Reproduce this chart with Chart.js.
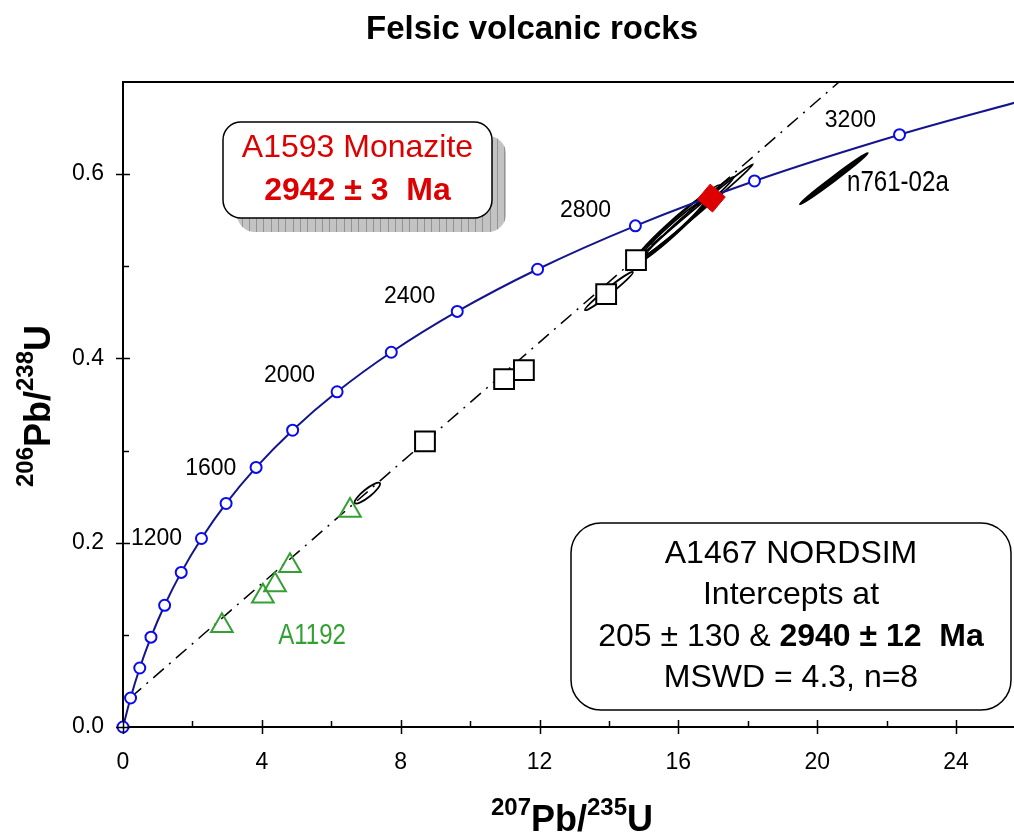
<!DOCTYPE html>
<html>
<head>
<meta charset="utf-8">
<script src="https://cdn.jsdelivr.net/npm/chart.js@4.4.0/dist/chart.umd.min.js"></script>
<style>
  html, body { margin: 0; padding: 0; background: #fff; }
  #c { display: block; }
</style>
</head>
<body>
<canvas id="c" width="1014" height="832"></canvas>
<script>
// ---- Concordia curve (207Pb/235U, 206Pb/238U), marker every 200 Ma ----
const concordiaAges = [0, 200, 400, 600, 800, 1000, 1200, 1400, 1600, 1800, 2000, 2200, 2400, 2600, 2800, 3000, 3200, 3340];
const concordiaX = [0, 0.2177, 0.4828, 0.8056, 1.1988, 1.6774, 2.2603, 2.9701, 3.8345, 4.8870, 6.1687, 7.7294, 9.6297, 11.944, 14.762, 18.193, 22.372, 25.83];
const concordiaY = [0, 0.0315, 0.0640, 0.0975, 0.1321, 0.1678, 0.2046, 0.2426, 0.2817, 0.3221, 0.3638, 0.4067, 0.4510, 0.4968, 0.5439, 0.5926, 0.6428, 0.679];

// ---- Age labels along the concordia ----
const ageLabels = ['1200', '1600', '2000', '2400', '2800', '3200'];
const ageLabelX = [0.23, 1.79, 4.06, 7.52, 12.59, 20.22];
const ageLabelY = [0.1975, 0.2734, 0.3743, 0.460, 0.5533, 0.651];

// ---- Discordia through A1467 (lower and upper ends of the drawn chord) ----
const discordiaX = [0.22, 20.63];
const discordiaY = [0.032, 0.70];

// ---- A1467 NORDSIM spots ----
const a1467X = [8.70, 10.98, 11.55, 13.92, 14.78];
const a1467Y = [0.310, 0.3776, 0.3873, 0.4698, 0.5067];

// ---- A1192 spots ----
const a1192X = [2.85, 4.03, 4.38, 4.81, 6.54];
const a1192Y = [0.110, 0.142, 0.154, 0.175, 0.235];

// ---- A1593 monazite concordant age ----
const monaziteX = [16.95];
const monaziteY = [0.574];

// ---- Error ellipses: major-axis end points ----
const ellipseX1 = [14.78, 14.52, 14.90, 14.66, 15.10, 13.31, 6.68, 19.50];
const ellipseY1 = [0.5045, 0.4958, 0.509, 0.501, 0.514, 0.4524, 0.243, 0.5674];
const ellipseX2 = [18.15, 17.20, 16.77, 16.97, 17.60, 14.69, 7.40, 21.46];
const ellipseY2 = [0.6108, 0.588, 0.572, 0.580, 0.597, 0.4937, 0.2647, 0.6228];

// ---- Axis ticks ----
const xMajorTicks = [0, 4, 8, 12, 16, 20, 24];
const yMajorTicks = [0, 0.2, 0.4, 0.6];

const SANS = '"Liberation Sans", Arial, Helvetica, sans-serif';
const GREEN = 'rgb(52,160,52)';
const RED = '#dd0000';

const pts = (xs, ys) => xs.map((x, i) => ({ x, y: ys[i] }));

// ellipse widths (minor axis, px) and fills
const ellipseStyle = [
  { w: 6, fill: false }, { w: 11, fill: false }, { w: 9, fill: false }, { w: 13, fill: false },
  { w: 7, fill: false }, { w: 6, fill: false }, { w: 8, fill: false }, { w: 4.5, fill: true }
];

function roundRectPath(ctx, x, y, w, h, r) {
  ctx.beginPath();
  ctx.moveTo(x + r, y);
  ctx.lineTo(x + w - r, y);
  ctx.arcTo(x + w, y, x + w, y + r, r);
  ctx.lineTo(x + w, y + h - r);
  ctx.arcTo(x + w, y + h, x + w - r, y + h, r);
  ctx.lineTo(x + r, y + h);
  ctx.arcTo(x, y + h, x, y + h - r, r);
  ctx.lineTo(x, y + r);
  ctx.arcTo(x, y, x + r, y, r);
  ctx.closePath();
}

// draws a sequence of text pieces (size, weight, superscript raise) centred on cx
function drawPieces(ctx, pieces, cx, baseY) {
  let total = 0;
  pieces.forEach(p => {
    ctx.font = (p.bold ? 'bold ' : '') + p.size + 'px ' + SANS;
    p.w = ctx.measureText(p.t).width;
    total += p.w;
  });
  let x = cx - total / 2;
  ctx.textAlign = 'left';
  ctx.textBaseline = 'alphabetic';
  pieces.forEach(p => {
    ctx.font = (p.bold ? 'bold ' : '') + p.size + 'px ' + SANS;
    ctx.fillText(p.t, x, baseY - (p.raise || 0));
    x += p.w;
  });
}

// condensed label (horizontally squeezed sans)
function narrowText(ctx, text, x, y, size, color) {
  ctx.save();
  ctx.translate(x, y);
  ctx.scale(0.83, 1);
  ctx.font = size + 'px ' + SANS;
  ctx.fillStyle = color;
  ctx.textAlign = 'left';
  ctx.textBaseline = 'alphabetic';
  ctx.fillText(text, 0, 0);
  ctx.restore();
}

const ellipsePlugin = {
  id: 'ellipses',
  afterDatasetDraw(chart, args) {
    if (args.meta.label !== 'discordia') return;
    const { ctx, chartArea, scales: { x: xs, y: ys } } = chart;
    ctx.save();
    ctx.beginPath();
    ctx.rect(chartArea.left, chartArea.top, chartArea.width, chartArea.height);
    ctx.clip();
    ellipseX1.forEach((x1, i) => {
      const p1x = xs.getPixelForValue(x1), p1y = ys.getPixelForValue(ellipseY1[i]);
      const p2x = xs.getPixelForValue(ellipseX2[i]), p2y = ys.getPixelForValue(ellipseY2[i]);
      const cx = (p1x + p2x) / 2, cy = (p1y + p2y) / 2;
      const a = Math.hypot(p2x - p1x, p2y - p1y) / 2;
      const ang = Math.atan2(p2y - p1y, p2x - p1x);
      const st = ellipseStyle[i];
      ctx.beginPath();
      ctx.ellipse(cx, cy, a, st.w / 2, ang, 0, Math.PI * 2);
      ctx.lineWidth = 1.8;
      ctx.strokeStyle = '#000';
      if (st.fill) { ctx.fillStyle = '#000'; ctx.fill(); }
      ctx.stroke();
    });
    ctx.restore();
  }
};

const decorPlugin = {
  id: 'decor',
  afterDraw(chart) {
    const { ctx, chartArea, scales: { x: xs, y: ys } } = chart;
    ctx.save();

    // frame: top border
    ctx.strokeStyle = '#000';
    ctx.lineWidth = 2;
    ctx.beginPath();
    ctx.moveTo(chartArea.left - 1, chartArea.top);
    ctx.lineTo(chartArea.right, chartArea.top);
    ctx.stroke();

    // tick marks: majors cross the axis, minors sit inside
    ctx.lineWidth = 1.5;
    xs.ticks.forEach(t => {
      const px = Math.round(xs.getPixelForValue(t.value)) + 0.5;
      const major = xMajorTicks.some(v => Math.abs(v - t.value) < 1e-6);
      ctx.beginPath();
      ctx.moveTo(px, chartArea.bottom + (major ? 7 : 0));
      ctx.lineTo(px, chartArea.bottom - (major ? 7 : 6));
      ctx.stroke();
    });
    ys.ticks.forEach(t => {
      if (t.value > 0.69) return;
      const py = Math.round(ys.getPixelForValue(t.value)) + 0.5;
      const major = yMajorTicks.some(v => Math.abs(v - t.value) < 1e-6);
      ctx.beginPath();
      ctx.moveTo(chartArea.left - (major ? 7 : 0), py);
      ctx.lineTo(chartArea.left + (major ? 7 : 6), py);
      ctx.stroke();
    });

    // age labels on the concordia
    ctx.fillStyle = '#000';
    ctx.font = '23px ' + SANS;
    ctx.textAlign = 'left';
    ctx.textBaseline = 'alphabetic';
    ageLabels.forEach((s, i) => {
      ctx.fillText(s, xs.getPixelForValue(ageLabelX[i]), ys.getPixelForValue(ageLabelY[i]));
    });

    // sample names
    narrowText(ctx, 'n761-02a', xs.getPixelForValue(20.86), ys.getPixelForValue(0.5815), 29, '#000');
    narrowText(ctx, 'A1192', xs.getPixelForValue(4.47), ys.getPixelForValue(0.090), 29, GREEN);

    // A1593 monazite box with hatched drop shadow
    const b1 = { x: 223, y: 122, w: 269, h: 96, r: 18 };
    ctx.save();
    roundRectPath(ctx, b1.x + 14, b1.y + 14, b1.w, b1.h, b1.r);
    ctx.fillStyle = '#c3c3c3';
    ctx.fill();
    ctx.clip();
    ctx.strokeStyle = '#939393';
    ctx.lineWidth = 1;
    for (let x = b1.x + 14 + 4.5; x < b1.x + 14 + b1.w; x += 7.3) {
      ctx.beginPath();
      ctx.moveTo(Math.round(x) + 0.5, b1.y);
      ctx.lineTo(Math.round(x) + 0.5, b1.y + b1.h + 20);
      ctx.stroke();
    }
    ctx.restore();
    roundRectPath(ctx, b1.x, b1.y, b1.w, b1.h, b1.r);
    ctx.fillStyle = '#fff';
    ctx.fill();
    ctx.strokeStyle = '#000';
    ctx.lineWidth = 1.5;
    ctx.stroke();
    ctx.fillStyle = RED;
    drawPieces(ctx, [{ t: 'A1593 Monazite', size: 32 }], b1.x + b1.w / 2, 157);
    drawPieces(ctx, [{ t: '2942 ± 3  Ma', size: 32, bold: true }], b1.x + b1.w / 2, 200);

    // A1467 NORDSIM result box
    const b2 = { x: 571, y: 523, w: 440, h: 187, r: 30 };
    roundRectPath(ctx, b2.x, b2.y, b2.w, b2.h, b2.r);
    ctx.fillStyle = '#fff';
    ctx.fill();
    ctx.strokeStyle = '#000';
    ctx.lineWidth = 1.5;
    ctx.stroke();
    ctx.fillStyle = '#000';
    const cx2 = b2.x + b2.w / 2;
    drawPieces(ctx, [{ t: 'A1467 NORDSIM', size: 32 }], cx2, 563);
    drawPieces(ctx, [{ t: 'Intercepts at', size: 32 }], cx2, 604);
    drawPieces(ctx, [{ t: '205 ± 130 & ', size: 32 }, { t: '2940 ± 12  Ma', size: 32, bold: true }], cx2, 646);
    drawPieces(ctx, [{ t: 'MSWD = 4.3, n=8', size: 32 }], cx2, 687);

    // title
    drawPieces(ctx, [{ t: 'Felsic volcanic rocks', size: 33, bold: true }], 532, 39);

    // x axis title
    drawPieces(ctx, [
      { t: '207', size: 24, bold: true, raise: 16 },
      { t: 'Pb/', size: 36, bold: true },
      { t: '235', size: 24, bold: true, raise: 16 },
      { t: 'U', size: 36, bold: true }
    ], 572, 831);

    // y axis title
    ctx.save();
    ctx.translate(50, 406);
    ctx.rotate(-Math.PI / 2);
    drawPieces(ctx, [
      { t: '206', size: 24, bold: true, raise: 17 },
      { t: 'Pb/', size: 36, bold: true },
      { t: '238', size: 24, bold: true, raise: 17 },
      { t: 'U', size: 36, bold: true }
    ], 0, 0);
    ctx.restore();

    ctx.restore();
  }
};

new Chart(document.getElementById('c'), {
  type: 'scatter',
  data: {
    datasets: [
      {
        label: 'A1593 monazite',
        data: pts(monaziteX, monaziteY),
        pointStyle: 'rect',
        rotation: 40,
        pointRadius: 14,
        backgroundColor: RED,
        borderColor: RED,
        borderWidth: 1,
        order: 0
      },
      {
        label: 'concordia',
        type: 'line',
        data: pts(concordiaX, concordiaY),
        borderColor: '#14148c',
        borderWidth: 2,
        cubicInterpolationMode: 'monotone',
        pointRadius: concordiaAges.map(a => a <= 3200 ? 5.5 : 0),
        pointBackgroundColor: '#fff',
        pointBorderColor: '#0a0af0',
        pointBorderWidth: 2,
        fill: false,
        clip: 12,
        order: 1
      },
      {
        label: 'A1192',
        data: pts(a1192X, a1192Y),
        pointStyle: 'triangle',
        pointRadius: 12.5,
        backgroundColor: 'rgba(0,0,0,0)',
        borderColor: GREEN,
        borderWidth: 2,
        order: 2
      },
      {
        label: 'A1467',
        data: pts(a1467X, a1467Y),
        pointStyle: 'rect',
        pointRadius: 14,
        backgroundColor: '#fff',
        borderColor: '#000',
        borderWidth: 2,
        order: 3
      },
      {
        label: 'discordia',
        type: 'line',
        data: pts(discordiaX, discordiaY),
        borderColor: '#000',
        borderWidth: 1.5,
        borderDash: [14, 7, 2, 7],
        pointRadius: 0,
        fill: false,
        order: 4
      }
    ]
  },
  options: {
    responsive: false,
    animation: false,
    devicePixelRatio: 1,
    layout: { autoPadding: false, padding: { top: 82, left: 0, right: 0, bottom: 0 } },
    plugins: {
      legend: { display: false },
      tooltip: { enabled: false },
      title: { display: false }
    },
    scales: {
      x: {
        type: 'linear',
        min: 0,
        max: 25.67,
        grid: { display: false, drawTicks: false },
        border: { display: true, color: '#000', width: 2 },
        ticks: {
          stepSize: 2,
          includeBounds: false,
          padding: 22,
          color: '#000',
          font: { family: SANS, size: 23 },
          maxRotation: 0,
          autoSkip: false,
          callback: v => (xMajorTicks.some(m => Math.abs(m - v) < 1e-6) ? String(v) : '')
        },
        afterFit: s => { s.height = 105; }
      },
      y: {
        type: 'linear',
        min: 0,
        max: 0.7,
        grid: { display: false, drawTicks: false },
        border: { display: true, color: '#000', width: 2 },
        ticks: {
          stepSize: 0.1,
          includeBounds: false,
          padding: 19,
          color: '#000',
          font: { family: SANS, size: 23 },
          autoSkip: false,
          callback: v => (yMajorTicks.some(m => Math.abs(m - v) < 1e-6) ? v.toFixed(1) : '')
        },
        afterFit: s => { s.width = 123; }
      }
    }
  },
  plugins: [ellipsePlugin, decorPlugin]
});
</script>
</body>
</html>
